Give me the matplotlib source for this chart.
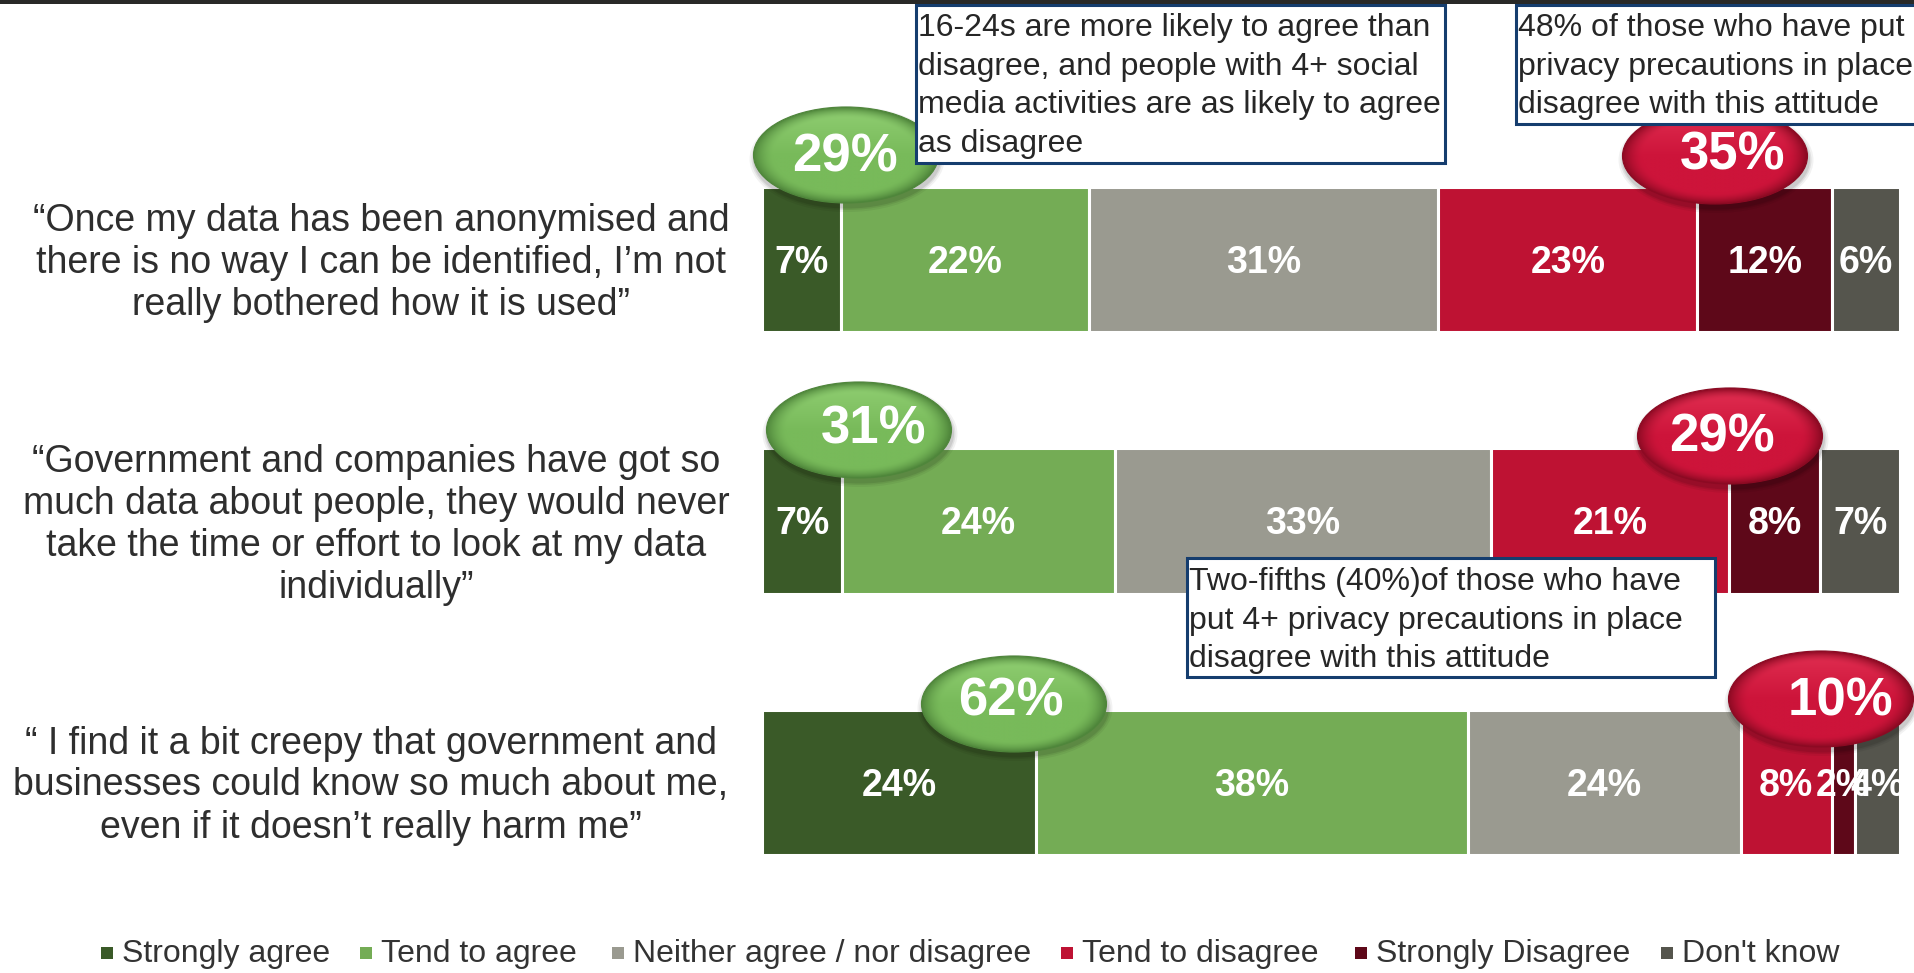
import numpy as np
import matplotlib
matplotlib.use("Agg")
import matplotlib.pyplot as plt
from matplotlib.patches import Ellipse, Rectangle
from matplotlib.colors import to_rgb

# ---------------- data ----------------
statements = [
    ["“Once my data has been anonymised and",
     "there is no way I can be identified, I’m not",
     "really bothered how it is used”"],
    ["“Government and companies have got so",
     "much data about people, they would never",
     "take the time or effort to look at my data",
     "individually”"],
    ["“ I find it a bit creepy that government and",
     "businesses could know so much about me,",
     "even if it doesn’t really harm me”"],
]
categories = ["Strongly agree", "Tend to agree", "Neither agree / nor disagree",
              "Tend to disagree", "Strongly Disagree", "Don't know"]
strongly_agree = [7, 7, 24]
tend_to_agree = [22, 24, 38]
neither = [31, 33, 24]
tend_to_disagree = [23, 21, 8]
strongly_disagree = [12, 8, 2]
dont_know = [6, 7, 4]

notes = [
    ["16-24s are more likely to agree than",
     "disagree, and people with 4+ social",
     "media activities are as likely to agree",
     "as disagree"],
    ["48% of those who have put 4+",
     "privacy precautions in place",
     "disagree with this attitude"],
    ["Two-fifths (40%)of those who have",
     "put 4+ privacy precautions in place",
     "disagree with this attitude"],
]

# ---------------- style ----------------
colors = ["#3A5A28", "#74AC55", "#9A9A90", "#BE1233", "#5E0819", "#55554D"]
FONT = "Liberation Sans"
TXT = "#2E2E2E"
NAVY = "#153D6E"

W, H = 1915, 973
fig = plt.figure(figsize=(W / 100, H / 100), dpi=100)
fig.patch.set_facecolor("white")

# main bar axes (pixel layout)
bar_h = 145 / 261
ax = fig.add_axes([762.5 / W, (H - 855) / H, 1137.5 / W, 668 / H])
ax.set_xlim(0, 100)
ax.set_ylim(2 + bar_h / 2, -bar_h / 2)
ax.axis("off")

series = np.array([strongly_agree, tend_to_agree, neither,
                   tend_to_disagree, strongly_disagree, dont_know], dtype=float)
totals = series.sum(axis=0)
shares = series / totals * 100.0
rows = np.arange(len(statements))
left = np.zeros(len(statements))
for k in range(series.shape[0]):
    ax.barh(rows, shares[k], left=left, height=bar_h, color=colors[k],
            edgecolor="white", linewidth=2.2, label=categories[k])
    for i in rows:
        ax.annotate(f"{int(series[k, i])}%", (left[i] + shares[k, i] / 2, i),
                    xytext=(0, -9.7), textcoords="offset points",
                    ha="center", va="baseline", color="white",
                    fontsize=27, fontweight="bold", family=FONT,
                    annotation_clip=False)
    left += shares[k]

# overlay axes in pixel coordinates for annotations
ov = fig.add_axes([0, 0, 1, 1], zorder=5)
ov.patch.set_alpha(0)
ov.axis("off")

# top dark rule
ov.add_patch(Rectangle((0, 0), W, 4, facecolor="#292927", edgecolor="none", zorder=1))

# statements on the left
label_cx = [381, 376, 371]
row_mid_base = [273, 534.5, 795.5]
line_gap = 42
for i, lines in enumerate(statements):
    n = len(lines)
    for j, line in enumerate(lines):
        yb = row_mid_base[i] + (j - (n - 1) / 2) * line_gap
        ov.text(label_cx[i], yb, line, ha="center", va="baseline",
                fontsize=27, color=TXT, family=FONT)


def draw_bubble(cx, cy, w, h, base, light, dark, z=3):
    for s, a in [(10, 0.05), (6, 0.07), (3, 0.09)]:
        ov.add_patch(Ellipse((cx + 1, cy + 4), w + s, h + s,
                             facecolor=(0, 0, 0, a), edgecolor="none", zorder=z))
    ny, nx = 120, 240
    yy, xx = np.mgrid[-1:1:ny * 1j, -1:1:nx * 1j]
    r = np.sqrt(xx ** 2 + yy ** 2)
    b, l, d = (np.array(to_rgb(c)) for c in (base, light, dark))
    top = np.clip(-yy * 1.1, 0, 1)[..., None]
    col = b + (l - b) * top * 0.8
    edge = (np.clip((r - 0.78) / 0.22, 0, 1) ** 1.6)[..., None]
    col = col * (1 - edge) + d * edge
    im = ov.imshow(np.clip(col, 0, 1), extent=(cx - w / 2, cx + w / 2, cy + h / 2, cy - h / 2),
                   aspect="auto", interpolation="bilinear", zorder=z + 0.1)
    el = Ellipse((cx, cy), w, h, facecolor="none", edgecolor=d, lw=0.8, zorder=z + 0.2)
    ov.add_patch(el)
    im.set_clip_path(el)


agree_net = [a + b for a, b in zip(strongly_agree, tend_to_agree)]
disagree_net = [a + b for a, b in zip(tend_to_disagree, strongly_disagree)]

bub_w, bub_h = 185, 96
agree_bub = [(846, 155), (859, 430), (1014, 704)]
agree_txt = [(845, 172), (874, 443), (1011, 716)]
dis_bub = [(1715, 156), (1730, 436), (1821, 699)]
dis_txt = [(1733, 170), (1722, 452), (1840, 715)]

for i in rows:
    draw_bubble(*agree_bub[i], bub_w, bub_h, "#78BA5A", "#93D175", "#4F863B")
    ov.text(*agree_txt[i], f"{agree_net[i]}%", ha="center", va="baseline",
            color="white", fontsize=38, fontweight="bold", family=FONT, zorder=4)
    draw_bubble(*dis_bub[i], bub_w, bub_h, "#CD143A", "#E33254", "#8C0A23")
    ov.text(*dis_txt[i], f"{disagree_net[i]}%", ha="center", va="baseline",
            color="white", fontsize=38, fontweight="bold", family=FONT, zorder=4)

# note boxes
boxes = [(916, 5, 1445, 163), (1516, 5, 1945, 124), (1187, 558, 1715, 677)]
box_first_base = [36, 36, 590]
box_gap = 38.6
for (x0, y0, x1, y1), lines, fb in zip(boxes, notes, box_first_base):
    ov.add_patch(Rectangle((x0, y0), x1 - x0, y1 - y0, facecolor="white",
                           edgecolor=NAVY, lw=2.2, zorder=6))
    for j, line in enumerate(lines):
        ov.text(x0 + 2, fb + j * box_gap, line, ha="left", va="baseline",
                fontsize=23, color="#262626", family=FONT, zorder=7)

# legend
leg_text_x = [122, 381, 633, 1082, 1376, 1682]
for k, name in enumerate(categories):
    tx = leg_text_x[k]
    ov.add_patch(Rectangle((tx - 21, 946.5), 12, 12, facecolor=colors[k],
                           edgecolor="none", zorder=6))
    ov.text(tx, 962, name, ha="left", va="baseline", fontsize=23,
            color="#333333", family=FONT, zorder=7)

ov.set_xlim(0, W)
ov.set_ylim(H, 0)

fig.savefig("out.png", dpi=100, facecolor="white")
